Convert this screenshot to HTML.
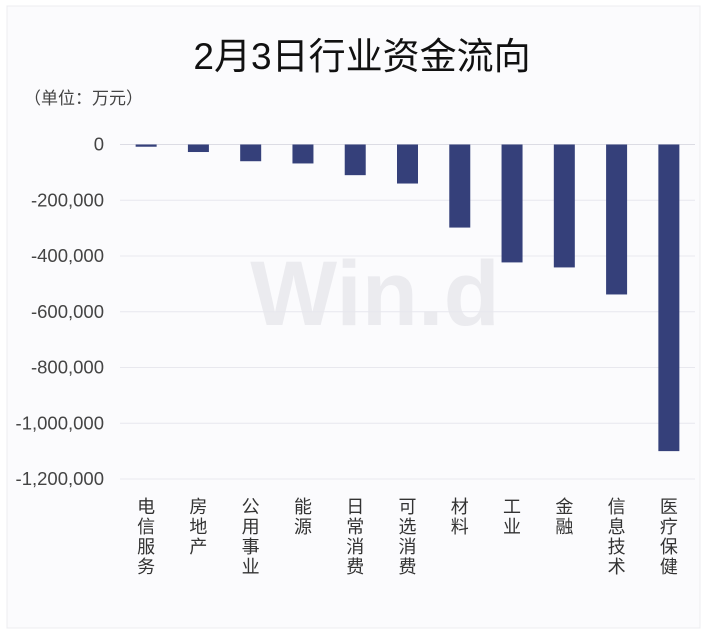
<!DOCTYPE html>
<html><head><meta charset="utf-8">
<style>
html,body{margin:0;padding:0;background:#fff;}
svg{display:block;font-family:"Liberation Sans","Noto Sans CJK SC",sans-serif;}
</style></head>
<body>
<svg id="chart" width="707" height="636" viewBox="0 0 707 636">
<rect x="7" y="6" width="693" height="622" fill="#fbfbfd" stroke="#ececf0"/>
<text x="362" y="69" text-anchor="middle" font-size="37" fill="#111">2月3日行业资金流向</text>
<text x="24" y="104" font-size="17" fill="#444">（单位：万元）</text>
<text x="375" y="325" text-anchor="middle" font-size="92" font-weight="bold" fill="#ebebef">Win.d</text>
<g id="grid"></g><g id="bars"></g><g id="ylabels"></g><g id="xlabels"></g>
</svg>
<script>
const categories=["电信服务","房地产","公用事业","能源","日常消费","可选消费","材料","工业","金融","信息技术","医疗保健"];
const values=[-8000,-27000,-60000,-68000,-110000,-140000,-298000,-423000,-441000,-538000,-1100000];
const ticks=[0,-200000,-400000,-600000,-800000,-1000000,-1200000];
const tickLabels=["0","-200,000","-400,000","-600,000","-800,000","-1,000,000","-1,200,000"];
const NS="http://www.w3.org/2000/svg";
const y0=144.5, pxPer=55.75/200000;
const yScale=v=>y0-v*pxPer;
const left=120,right=695,step=(right-left)/categories.length,bw=21;
const xCenter=i=>left+step*(i+0.5);
function mk(tag,attrs,parent){const e=document.createElementNS(NS,tag);for(const k in attrs)e.setAttribute(k,attrs[k]);document.getElementById(parent).appendChild(e);return e;}
ticks.forEach((t,i)=>{
 const y=yScale(t);
 const l=mk('line',{x1:left,x2:right,y1:y,y2:y,stroke:i===0?'#dcdce4':'#e8e8ee'},'grid');
 
 
 const tx=mk('text',{x:104,y:y+6,'text-anchor':'end','font-size':18.5,fill:'#444'},'ylabels');
 tx.textContent=tickLabels[i];
 
 
});
categories.forEach((c,i)=>{
 const yv=yScale(values[i]);
 const r=mk('rect',{x:xCenter(i)-bw/2,y:Math.min(y0,yv),width:bw,height:Math.abs(yv-y0),fill:'#35407a'},'bars');
 
 
 [...c].forEach((ch,j)=>{
  const t=mk('text',{x:xCenter(i),y:513+j*20,'text-anchor':'middle','font-size':18,fill:'#333'},'xlabels');
  t.textContent=ch;
  
  
 });
});
</script>
</body></html>
